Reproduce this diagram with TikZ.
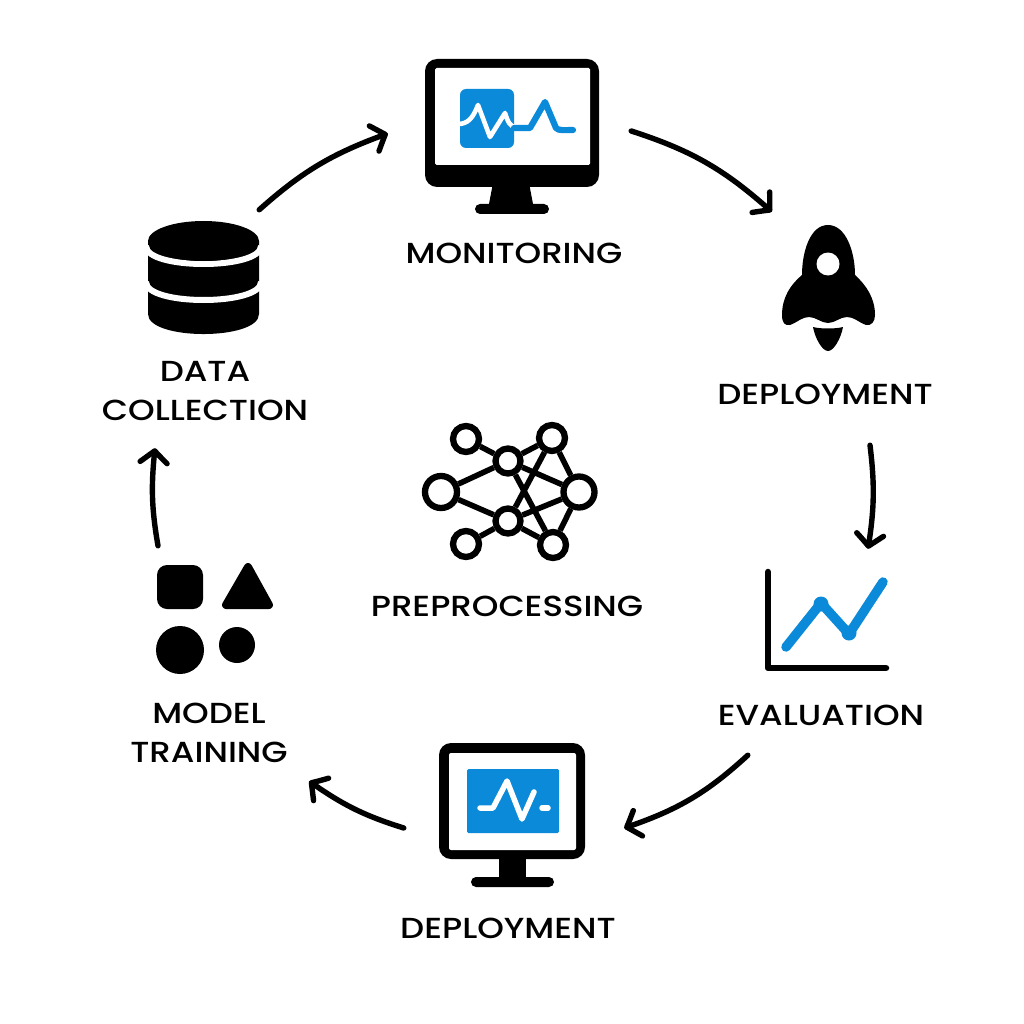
\documentclass[tikz,border=0pt]{standalone}
\usepackage{fontspec}
\setmainfont{Poppins Medium}[FakeStretch=1.17]
\usetikzlibrary{arrows.meta,bending}
\definecolor{skyb}{HTML}{0A8AD8}
\tikzset{
  x=1pt,y=-1pt,
  lab/.style={inner sep=0pt,align=center,text=black,font=\fontsize{29}{39}\selectfont},
  flow/.style={line width=5.4pt,line cap=round,line join=round,-{Straight Barb[length=12pt,width=27pt,round,bend]}},
  net/.style={circle,draw=black,fill=white,inner sep=0pt,line width=6.3pt,minimum size=#1},
  edge/.style={line width=5.6pt},
  whitewave/.style={draw=white,line width=4.6pt,line cap=round,line join=round},
  bluewave/.style={draw=skyb,line width=6.2pt,line cap=round,line join=round},
}
\newcommand{\groupbox}[5]{\path (#2,#3) rectangle (#4,#5) node[pos=0.5,inner sep=0pt,minimum width={#4-#2},minimum height={#5-#3}] (#1) {};}
\begin{document}
\begin{tikzpicture}
\useasboundingbox (0,0) rectangle (1024,1024);
\fill[white] (0,0) rectangle (1024,1024);

% group boxes (invisible), connectors leave and reach them
\groupbox{gmon}{388}{54}{631}{214}
\groupbox{gdep}{772}{212}{968}{445}
\groupbox{geva}{748}{549}{988}{755}
\groupbox{gdtw}{404}{740}{624}{916}
\groupbox{gtrn}{7}{546}{309}{781}
\groupbox{gdat}{51}{210}{259}{448}

% monitoring icon
\fill[black] (489,204) -- (493,183) -- (529,183) -- (533,204) -- cycle;
\fill[black,rounded corners=5pt] (475,204) rectangle (549,214);
\fill[black,rounded corners=12pt] (425,59) rectangle (599,187);
\fill[white,rounded corners=1.5pt] (435,68) rectangle (590,165);
\fill[skyb,rounded corners=6pt] (460,89) rectangle (514,148);
\draw[whitewave] (458,124) .. controls (468,124) and (473,118) .. (478,105) -- (490,137) -- (505,113) .. controls (508,122) and (510,127) .. (516,127);
\draw[bluewave] (514,128) -- (530,128) -- (545,102) -- (556,128) .. controls (558,131) and (566,130) .. (573,130);

% rocket
\fill[black] (828,225) .. controls (810,225) and (802,252) .. (802,275)
  .. controls (790,285) and (782,298) .. (782,315)
  .. controls (782,323) and (785,326) .. (790,325)
  .. controls (798,322) and (802,317) .. (809,317)
  .. controls (816,317) and (821,323) .. (828,323)
  .. controls (835,323) and (840,317) .. (847,317)
  .. controls (854,317) and (858,322) .. (866,325)
  .. controls (871,326) and (875,322) .. (875,315)
  .. controls (875,298) and (866,285) .. (855,275)
  .. controls (855,252) and (846,225) .. (828,225) -- cycle;
\fill[white] (828,264) circle[radius=11.5];
\fill[black] (813,327) .. controls (820,329) and (836,329) .. (843,327)
  .. controls (841,338) and (834,351) .. (828,351)
  .. controls (822,351) and (815,338) .. (813,327) -- cycle;

% chart
\draw[black,line width=6.5pt,line cap=round,line join=round] (768,572) -- (768,668) -- (886,668);
\draw[skyb,line width=9.5pt,line cap=round,line join=round] (786,647) -- (821,603) -- (849,634) -- (883,582);
\fill[skyb] (821,604) circle[radius=7.5];
\fill[skyb] (849,633) circle[radius=7.5];

% second monitor
\fill[black] (499,855) rectangle (526,880);
\fill[black,rounded corners=5pt] (471,877) rectangle (554,887);
\fill[black,rounded corners=12pt] (439,743) rectangle (585,859);
\fill[white,rounded corners=2pt] (449,753) rectangle (576,850);
\fill[skyb,rounded corners=1.5pt] (467,769) rectangle (559,833);
\draw[whitewave,line width=5.5pt] (480,808) -- (493,808) -- (507,781) -- (522,819) -- (534,792);
\draw[whitewave,line width=5.5pt] (542,808) -- (548,808);

% shapes
\fill[black,rounded corners=10pt] (157,565) rectangle (203,609);
\filldraw[black,line width=8pt,line join=round] (248,567) -- (226,605) -- (269,605) -- cycle;
\fill[black] (180,650) circle[radius=24];
\fill[black] (237,645) circle[radius=18];

% database
\fill[black] (148,241) -- (148,314) .. controls (148,340.7) and (259,340.7) .. (259,314) -- (259,241) -- cycle;
\draw[white,line width=6pt] (146,246) .. controls (146,270) and (261,270) .. (261,246);
\draw[white,line width=6pt] (146,282) .. controls (146,306) and (261,306) .. (261,282);
\fill[black] (203.5,241) ellipse[x radius=55.5,y radius=20];

% network
\node[net=26pt] (ntl) at (466,439) {};
\node[net=25pt] (ntm) at (508,461) {};
\node[net=26pt] (ntr) at (552,438) {};
\node[net=32pt] (nl)  at (441,492) {};
\node[net=31pt] (nr)  at (579,492) {};
\node[net=25pt] (nbm) at (508,521) {};
\node[net=26pt] (nbl) at (466,544) {};
\node[net=26pt] (nbr) at (553,545) {};
\draw[edge] (ntl)--(ntm) (ntm)--(ntr) (nl)--(ntm) (nl)--(nbm) (nbl)--(nbm) (nbm)--(nbr)
  (ntm)--(nr) (nbm)--(nr) (ntr)--(nr) (nbr)--(nr) (ntr)--(nbm) (ntm)--(nbr);

% labels
\node[lab] (lmon) at (514,253) {MONITORING};
\node[lab] (ldep) at (825,394) {DEPLOYMENT};
\node[lab] (ldat) at (205,391.5) {DATA\\COLLECTION};
\node[lab] (leva) at (821,715) {EVALUATION};
\node[lab] (ldtw) at (508,928) {DEPLOYMENT};
\node[lab] (ltrn) at (209,733) {MODEL\\TRAINING};
\node[lab] (lpre) at (507,606) {PREPROCESSING};

% connectors
\draw[flow] (gdat.north east) to[bend left=11] ([yshift=0.5pt]gmon.west);
\draw[flow] ([yshift=3pt]gmon.east) to[bend left=12] (gdep.north west);
\draw[flow] (gdep.south) to[bend left=8] (geva.north);
\draw[flow] (geva.south west) to[bend left=12] (gdtw.east);
\draw[flow] (gdtw.west) to[bend left=9] (gtrn.south east);
\draw[flow] (gtrn.north) to[bend left=8] (gdat.south);
\end{tikzpicture}
\end{document}
